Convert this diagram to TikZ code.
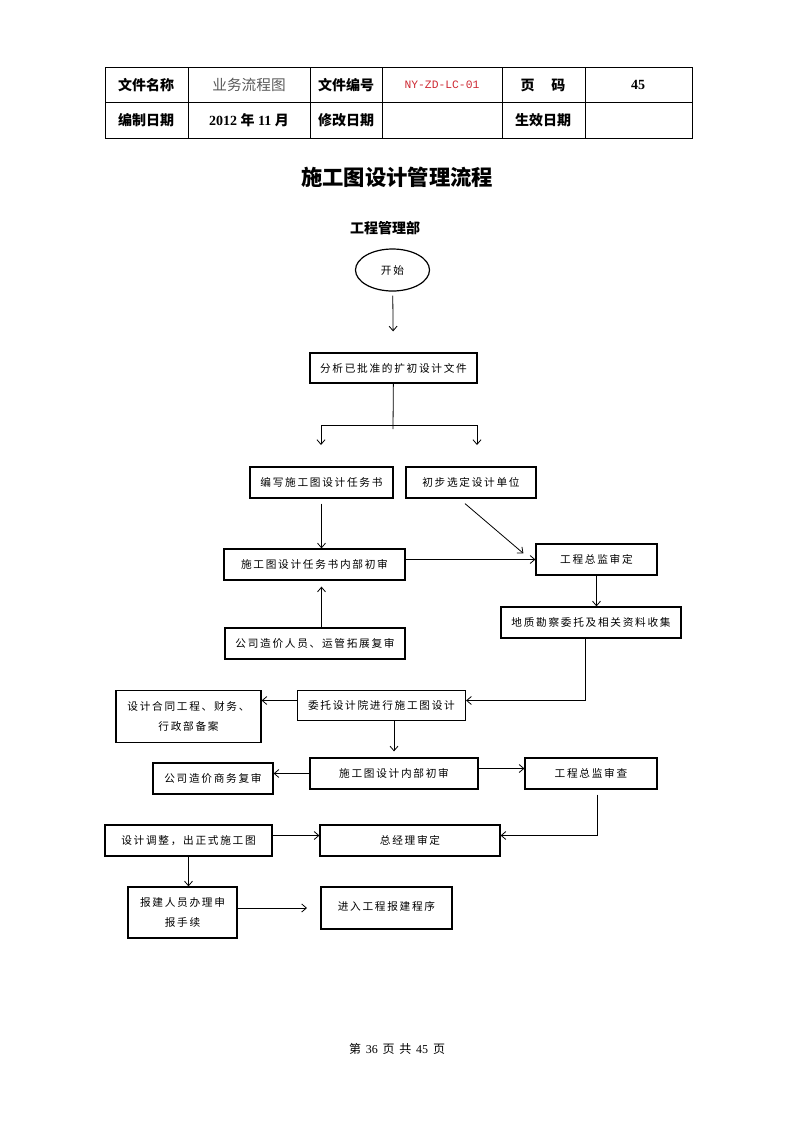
\documentclass[tikz,border=0pt]{standalone}
\usepackage{xcolor}
\usepackage{tikz}
\usepackage{fontspec}
\usetikzlibrary{shapes.geometric,arrows.meta}
\setmainfont{Liberation Serif}
\newfontfamily\cjk{Noto Sans CJK SC}
\newfontfamily\cjkbox{Noto Sans CJK SC}[LetterSpace=16]
\newfontfamily\codefont{Liberation Mono}
\newcommand{\pxu}{0.75pt}
\definecolor{codered}{RGB}{205,40,50}

\begin{document}
\begin{tikzpicture}[x=0.75pt, y=-0.75pt,
        >={Straight Barb[length=3.5pt, width=6pt]},
        box/.style={draw, line width=0.9pt, inner sep=0pt, align=center,
            font=\fontsize{8pt}{14.5pt}\selectfont\cjkbox},
        wh/.style 2 args={minimum width=#1*\pxu, minimum height=#2*\pxu},
        arr/.style={->, line width=0.6pt},
        arrboth/.style={<->, line width=0.6pt},
        head/.style={font=\fontsize{10.5pt}{12pt}\selectfont\cjk\bfseries}]
    \useasboundingbox (0,0) rectangle (793,1122);

    \draw[line width=0.7pt] (105,67) rectangle (692,138);
    \draw[line width=0.6pt] (105,102.5) -- (692,102.5);
    \foreach \cx in {188,310,382,502,585}
        \draw[line width=0.6pt] (\cx,67) -- (\cx,138);

    \node (hname) at (146,85) [head] {文件名称};
    \node (hnamev) at (249,85) [font=\fontsize{11pt}{13pt}\selectfont\cjk, text=black!65] {业务流程图};
    \node (hno) at (346,85) [head] {文件编号};
    \node (hnov) at (442,85) [font=\fontsize{8.5pt}{10pt}\selectfont\codefont, text=codered] {NY-ZD-LC-01};
    \node (hpage) at (543,85) [head] {页\hspace{1.2em}码};
    \node (hpagev) at (638,85) [font=\fontsize{10.5pt}{12pt}\selectfont\bfseries] {45};
    \node (hdate) at (146,120) [head] {编制日期};
    \node (hdatev) at (249,120) [font=\fontsize{10.5pt}{12pt}\selectfont\bfseries] {2012 {\cjk 年} 11 {\cjk 月}};
    \node (hmod) at (346,120) [head] {修改日期};
    \node (heff) at (543,120) [head] {生效日期};

    \node (title) at (397,177) [font=\fontsize{16pt}{18pt}\selectfont\cjk\bfseries] {施工图设计管理流程};
    \node (dept) at (385,228) [head] {工程管理部};

    \node (start) at (392.5,270) [ellipse, box, wh={74}{42}] {开始};
    \node (fx) at (393.5,368) [box, wh={167}{30}] {分析已批准的扩初设计文件};
    \node (bx) at (321.5,482.5) [box, wh={143}{31}] {编写施工图设计任务书};
    \node (cb) at (471,482.5) [box, wh={130}{31}] {初步选定设计单位};
    \node (cs) at (314.5,564.5) [box, wh={181}{31}] {施工图设计任务书内部初审};
    \node (zj1) at (596.5,559.5) [box, wh={121}{31}] {工程总监审定};
    \node (dz) at (591,622.5) [box, wh={180}{31}] {地质勘察委托及相关资料收集};
    \node (gs) at (315,643.5) [box, wh={180}{31}] {公司造价人员、运管拓展复审};
    \node (wt) at (381.5,705.5) [box, wh={168}{30}] {委托设计院进行施工图设计};
    \node (ht) at (188.5,716.5) [box, wh={145}{52}] {设计合同工程、财务、\\行政部备案};
    \node (ns) at (394,773.5) [box, wh={168}{31}] {施工图设计内部初审};
    \node (sw) at (213,778.5) [box, wh={120}{31}] {公司造价商务复审};
    \node (zj2) at (591,773.5) [box, wh={132}{31}] {工程总监审查};
    \node (tz) at (188.5,840.5) [box, wh={167}{31}] {设计调整，出正式施工图};
    \node (zjl) at (410,840.5) [box, wh={180}{31}] {总经理审定};
    \node (bj) at (182.5,912.5) [box, wh={109}{51}] {报建人员办理申\\报手续};
    \node (jr) at (386.5,908) [box, wh={131}{42}] {\raisebox{3.5pt}{进入工程报建程序}};

    \coordinate (sp) at (393,429);
    \coordinate (sr) at (477,425);
    \coordinate (tl) at (321,445);
    \coordinate (tr) at (477,445);
    \coordinate (bjend) at (307,908);

    \draw[arr, shorten <=4*\pxu, shorten >=21*\pxu] (start) -- (fx);
    \draw[line width=0.6pt] (fx) -- (sp);
    \draw[arrboth] (tl) |- (sr) -- (tr);
    \draw[arr, shorten <=5*\pxu] (bx.south) -- (bx.south |- cs.north);
    \draw[arr] ([xshift=-6*\pxu, yshift=-5*\pxu]cb.south) -- ([xshift=-12*\pxu, yshift=-10*\pxu]zj1.north west);
    \draw[arr] (cs.east |- zj1.west) -- (zj1.west);
    \draw[arr] (zj1.south) -- (zj1.south |- dz.north);
    \draw[arr, shorten >=6*\pxu] (bx.south |- gs.north) -- (bx.south |- cs.south);
    \draw[arr] ([xshift=-6*\pxu]dz.south) |- ([yshift=5*\pxu]wt.east);
    \draw[arr] ([yshift=5*\pxu]wt.west) -- ([yshift=5*\pxu]wt.west -| ht.east);
    \draw[arr, shorten >=6*\pxu] (ns.north |- wt.south) -- (ns.north);
    \draw[arr] (ns.west) -- (ns.west -| sw.east);
    \draw[arr] ([yshift=5*\pxu]ns.east) -- ([yshift=5*\pxu]ns.east -| zj2.west);
    \draw[arr] ([xshift=6*\pxu, yshift=-5*\pxu]zj2.south) |- ([yshift=5*\pxu]zjl.east);
    \draw[arr] ([yshift=5*\pxu]tz.east) -- ([yshift=5*\pxu]zjl.west);
    \draw[arr] (tz.south) -- (tz.south |- bj.north);
    \draw[arr] (bj.east |- bjend) -- (bjend);

    \node (foot) at (397,1049) [font=\fontsize{9pt}{11pt}\selectfont] {{\cjk 第}\hspace{0.4em}36\hspace{0.4em}{\cjk 页}\hspace{0.4em}{\cjk 共}\hspace{0.4em}45\hspace{0.4em}{\cjk 页}};
\end{tikzpicture}
\end{document}
